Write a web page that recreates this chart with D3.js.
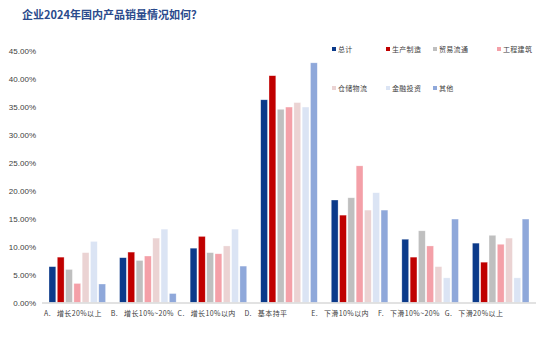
<!DOCTYPE html>
<html>
<head>
<meta charset="utf-8">
<script src="https://cdn.jsdelivr.net/npm/d3@7/dist/d3.min.js"></script>
<style>
  html, body { margin: 0; padding: 0; background: #fff; }
  svg { display: block; }
  text { white-space: pre; }
</style>
</head>
<body>
<svg id="chart" width="553" height="340"></svg>
<script>
// Domestic sales outlook for 2024, share of firms by answer and by sector
const title = "企业2024年国内产品销量情况如何？";
const categories = ["A.   增长20%以上", "B.   增长10%~20%", "C.   增长10%以内", "D.   基本持平",
                    "E.   下滑10%以内", "F.   下滑10%~20%", "G.   下滑20%以上"];
const seriesNames = ["总计", "生产制造", "贸易流通", "工程建筑", "仓储物流", "金融投资", "其他"];
const seriesColors = ["#0B3A8A", "#C00000", "#BFBFBF", "#F4A0A8", "#EBD3D3", "#DBE4F4", "#8FA8DA"];

// percentages, one array per sector, ordered as categories A..G
const total       = [6.4, 8.0, 9.7, 36.2, 18.3, 11.3, 10.6];
const manufacture = [8.1, 9.0, 11.8, 40.5, 15.6, 8.1, 7.2];
const trade       = [5.9, 7.5, 8.9, 34.5, 18.7, 12.8, 12.0];
const construct   = [3.4, 8.3, 8.7, 34.9, 24.4, 10.1, 10.4];
const logistics   = [8.9, 11.5, 10.1, 35.7, 16.5, 6.4, 11.5];
const finance     = [10.9, 13.1, 13.1, 34.9, 19.6, 4.4, 4.4];
const other       = [3.3, 1.6, 6.5, 42.8, 16.5, 14.9, 14.9];
const seriesValues = [total, manufacture, trade, construct, logistics, finance, other];

const yTicks = [0, 5, 10, 15, 20, 25, 30, 35, 40, 45];

const svg = d3.select("#chart");
const cjk = "'Noto Sans CJK SC', 'Noto Sans', sans-serif";

const plot = { left: 42, right: 536, top: 50.5, bottom: 302.5 };

const x0 = d3.scaleBand().domain(categories).range([plot.left, plot.right]).padding(0);
const x1 = d3.scaleBand().domain(seriesNames)
  .range([7, x0.bandwidth() - 7]).paddingInner(0.18).paddingOuter(0);
const y = d3.scaleLinear().domain([0, 45]).range([plot.bottom, plot.top]);
const color = d3.scaleOrdinal().domain(seriesNames).range(seriesColors);

// title
svg.append("text")
  .attr("x", 22).attr("y", 19)
  .attr("font-family", cjk).attr("font-size", 11).attr("font-weight", "bold")
  .attr("fill", "#2A4A8C")
  .text(title);

// y axis labels
const fmt = d3.format(".2f");
const yAxis = d3.axisLeft(y).tickValues(yTicks).tickSize(0).tickPadding(6)
  .tickFormat(d => fmt(d) + "%");
svg.append("g")
  .attr("transform", `translate(${plot.left},0)`)
  .call(yAxis)
  .call(g => g.select(".domain").remove())
  .call(g => g.selectAll("text")
    .attr("font-family", "'Liberation Sans', Arial, sans-serif")
    .attr("font-size", 8).attr("fill", "#404040"));

// bars
const groups = svg.append("g").selectAll("g")
  .data(categories)
  .join("g")
  .attr("transform", d => `translate(${x0(d)},0)`);

groups.selectAll("rect")
  .data((c, i) => seriesNames.map((s, j) => ({ s, v: seriesValues[j][i] })))
  .join("rect")
  .attr("x", d => x1(d.s))
  .attr("y", d => y(d.v))
  .attr("width", x1.bandwidth())
  .attr("height", d => y(0) - y(d.v))
  .attr("fill", d => color(d.s))
  .attr("stroke", "#ffffff")
  .attr("stroke-opacity", 0.5)
  .attr("stroke-width", 0.6);

// x axis line
svg.append("line")
  .attr("x1", plot.left).attr("x2", plot.right)
  .attr("y1", plot.bottom + 0.5).attr("y2", plot.bottom + 0.5)
  .attr("stroke", "#D9D9D9").attr("stroke-width", 1.5);

// category labels, left-aligned on an even grid
const xl = d3.scaleBand().domain(categories).range([44, 44 + 66.8 * categories.length]);
svg.append("g").selectAll("text")
  .data(categories)
  .join("text")
  .attr("x", d => xl(d))
  .attr("y", 316)
  .attr("font-family", cjk).attr("font-size", 7).attr("letter-spacing", 0.4)
  .attr("fill", "#404040")
  .text(d => d);

// legend: two rows, four columns
const legendCols = [332, 386, 433, 497];
const legendRows = [49, 88];
const legend = svg.append("g").selectAll("g")
  .data(seriesNames)
  .join("g")
  .attr("transform", (d, i) => `translate(${legendCols[i % 4]},${legendRows[Math.floor(i / 4)]})`);
legend.append("rect")
  .attr("x", 0).attr("y", -2).attr("width", 4).attr("height", 4)
  .attr("fill", d => color(d));
legend.append("text")
  .attr("x", 6).attr("y", 2.5)
  .attr("font-family", cjk).attr("font-size", 7).attr("letter-spacing", 0.3)
  .attr("fill", "#404040")
  .text(d => d);
</script>
</body>
</html>
